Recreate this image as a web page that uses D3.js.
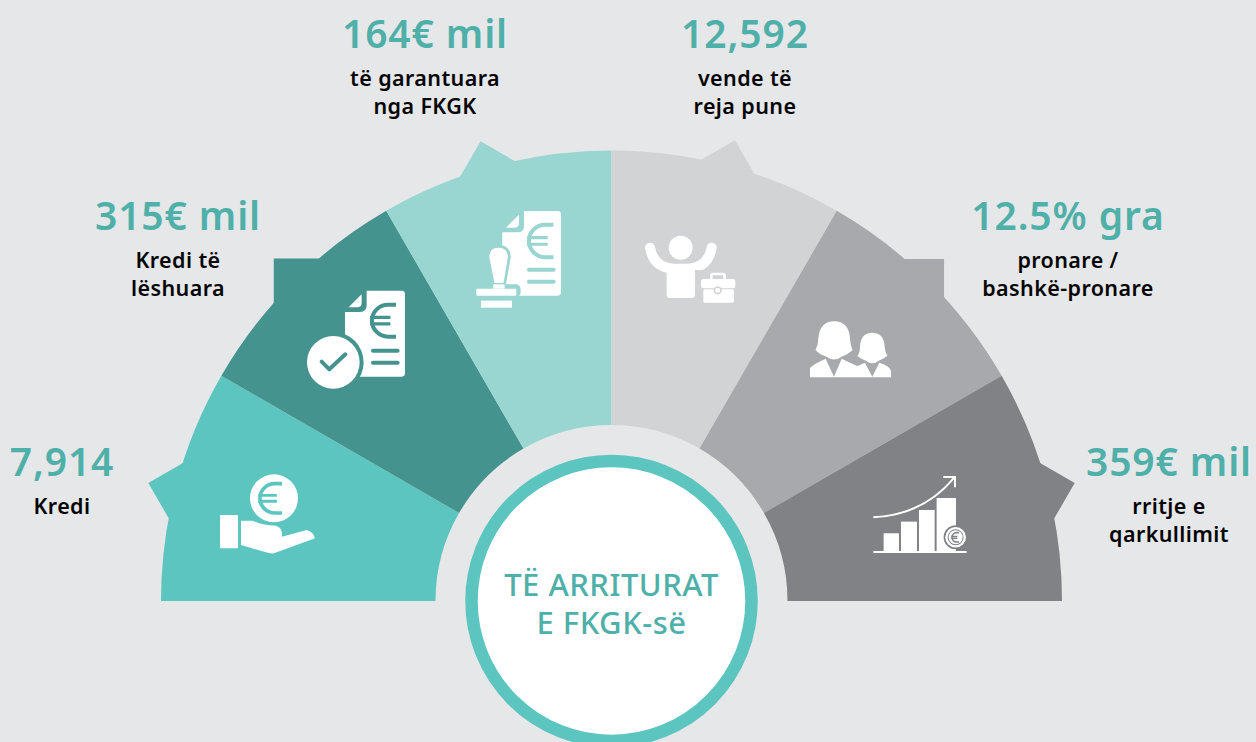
<!DOCTYPE html>
<html>
<head>
<meta charset="utf-8" />
<title>Të arriturat e FKGK-së</title>
<style>
  html, body {margin: 0; padding: 0; background: #e6e7e8;}
  svg {display: block;}
  text {font-family: "Noto Sans", sans-serif; text-anchor: middle;}
  .value {font-size: 39px; font-weight: 600; fill: #4fb0a9; letter-spacing: .9px;}
  .sub {font-size: 21.5px; font-weight: 600; fill: #050505; letter-spacing: .4px;}
  .center {font-size: 31px; font-weight: 500; fill: #4fb0a9; letter-spacing: .5px;}
</style>
<script src="https://cdnjs.cloudflare.com/ajax/libs/d3/7.8.5/d3.min.js"></script>
</head>
<body>
<svg id="chart" width="1256" height="742"></svg>
<script>
// data, left to right round the half circle
var categories = ["Kredi", "Kredi të lëshuara", "të garantuara nga FKGK", "vende të reja pune", "pronare / bashkë-pronare", "rritje e qarkullimit"];
var values = ["7,914", "315€ mil", "164€ mil", "12,592", "12.5% gra", "359€ mil"];
var subLines = [["Kredi"], ["Kredi të", "lëshuara"], ["të garantuara", "nga FKGK"], ["vende të", "reja pune"], ["pronare /", "bashkë-pronare"], ["rritje e", "qarkullimit"]];
var weights = [1, 1, 1, 1, 1, 1];
var colors = ["#5cc5bf", "#44938f", "#99d5d1", "#d1d3d4", "#a7a9ac", "#808285"];
var centerLines = ["TË ARRITURAT", "E FKGK-së"];

var labelX = [62, 178, 425, 745, 1068, 1169];
var labelY = [476, 230, 48, 48, 230, 476];
// where the tips of the little corners sit, degrees from straight up and radius
var tipAngle = [-75.7, -44.6, -15.9, 15, 44.2, 75.7];
var tipRadius = [478, 481, 478, 477, 477, 478];

var cx = 611.5, cy = 601;
var svg = d3.select("#chart");
var g = svg.append("g").attr("transform", "translate(" + cx + "," + cy + ")");

var pie = d3.pie().value(function(d) { return d; }).sort(null)
  .startAngle(-Math.PI / 2).endAngle(Math.PI / 2);
var arc = d3.arc().innerRadius(176).outerRadius(450.5);
var arcs = pie(weights);

// small square corner sticking out of each slice
function tab(d, i) {
  var a = tipAngle[i] * Math.PI / 180;
  var mid = (d.startAngle + d.endAngle) / 2;
  var tx = tipRadius[i] * Math.sin(a), ty = -tipRadius[i] * Math.cos(a);
  var s = 50 / Math.SQRT2;
  var ux = Math.sin(mid), uy = -Math.cos(mid), vx = -uy, vy = ux;
  var p = d3.path();
  p.moveTo(tx, ty);
  p.lineTo(tx - s * ux + s * vx, ty - s * uy + s * vy);
  p.lineTo(tx - s * ux - s * vx, ty - s * uy - s * vy);
  p.closePath();
  return p.toString();
}

g.selectAll(".tab").data(arcs).enter().append("path")
  .attr("class", "tab")
  .attr("d", tab)
  .attr("fill", function(d, i) { return colors[i]; });

g.selectAll(".slice").data(arcs).enter().append("path")
  .attr("class", "slice")
  .attr("d", arc)
  .attr("fill", function(d, i) { return colors[i]; });

// middle circle
g.append("circle").attr("r", 140).attr("fill", "#fff").attr("stroke", "#5cc5bf").attr("stroke-width", 12.5);
g.selectAll(".center").data(centerLines).enter().append("text")
  .attr("class", "center")
  .attr("x", 0)
  .attr("y", function(d, i) { return -5 + i * 38; })
  .text(function(d) { return d; });

// labels
var labels = svg.selectAll(".label").data(values).enter().append("g").attr("class", "label");
labels.append("text").attr("class", "value")
  .attr("x", function(d, i) { return labelX[i]; })
  .attr("y", function(d, i) { return labelY[i]; })
  .text(function(d) { return d; });
labels.each(function(d, i) {
  d3.select(this).selectAll(".sub").data(subLines[i]).enter().append("text")
    .attr("class", "sub")
    .attr("x", labelX[i])
    .attr("y", function(t, j) { return labelY[i] + 38 + j * 28; })
    .text(function(t) { return t; });
});

// icons, drawn in a 3x grid so they are easier to line up
var left = svg.append("g").attr("transform", "translate(130,130) scale(0.3333)");
var right = svg.append("g").attr("transform", "translate(610,130) scale(0.3333)");

function euro(p, x, y, r, col, sw) {
  p.append("path").attr("fill", "none").attr("stroke", col).attr("stroke-width", sw)
    .attr("d", "M" + (x + r * 0.5) + "," + (y - r) + "H" + x +
      "A" + r + "," + r + " 0 0 0 " + x + "," + (y + r) + "H" + (x + r * 0.5));
  p.append("path").attr("fill", "none").attr("stroke", col).attr("stroke-width", sw * 0.8)
    .attr("d", "M" + (x - r * 1.12) + "," + (y - r * 0.2) + "H" + (x + r * 0.15) +
      "M" + (x - r * 1.12) + "," + (y + r * 0.2) + "H" + (x + r * 0.15));
}

function paper(p, x0, y0, x1, y1, col) {
  // x0,y0 is the top left of the sheet, cut by the fold
  p.append("path").attr("fill", "#fff")
    .attr("d", "M" + (x0 + 65) + "," + y0 + "H" + (x1 - 10) + "q10,0 10,10V" + (y1 - 10) + "q0,10 -10,10H" + x0 + "V" + (y0 + 64) +
      "H" + (x0 + 45) + "q20,0 20,-20Z");
  p.append("path").attr("fill", "#fff")
    .attr("d", "M" + (x0 + 11) + "," + (y0 + 50) + "L" + (x0 + 50) + "," + (y0 + 11) + "V" + (y0 + 36) + "q0,14 -14,14Z");
  p.append("path").attr("fill", "none").attr("stroke", col).attr("stroke-width", 12).attr("stroke-linecap", "round")
    .attr("d", "M" + (x1 - 96) + "," + (y1 - 78) + "H" + (x1 - 22) + "M" + (x1 - 96) + "," + (y1 - 42) + "H" + (x1 - 22));
}

// hand with coin
left.append("circle").attr("cx", 432).attr("cy", 1105).attr("r", 72).attr("fill", "#fff");
euro(left, 434, 1105, 44, colors[0], 11);
left.append("rect").attr("x", 270).attr("y", 1155).attr("width", 54).attr("height", 100).attr("rx", 3).attr("fill", "#fff");
left.append("path").attr("fill", "#fff")
  .attr("d", "M333,1172H368Q400,1187 438,1187Q458,1192 456,1220L530,1200Q550,1205 555,1225L432,1270Q420,1272 400,1265L333,1245Z");

// document with tick
paper(left, 645, 482, 825, 740, colors[1]);
euro(left, 774, 572, 48, colors[1], 12);
left.append("circle").attr("cx", 610).attr("cy", 697).attr("r", 91).attr("fill", colors[1]);
left.append("circle").attr("cx", 610).attr("cy", 697).attr("r", 79).attr("fill", "#fff");
left.append("path").attr("fill", "none").attr("stroke", colors[1]).attr("stroke-width", 12).attr("stroke-linecap", "round").attr("stroke-linejoin", "round")
  .attr("d", "M575,695L598,718L646,673");

// document with stamp
paper(left, 1117, 243, 1293, 497, colors[2]);
euro(left, 1246, 333, 49, colors[2], 12);
left.append("path").attr("fill", "#fff").attr("stroke", colors[2]).attr("stroke-width", 8)
  .attr("d", "M1074,382Q1074,349 1105,349Q1138,349 1138,382L1124,463H1090Z");
left.append("rect").attr("x", 1036).attr("y", 463).attr("width", 136).attr("height", 38).attr("rx", 14).attr("fill", colors[2]);
left.append("rect").attr("x", 1039).attr("y", 476).attr("width", 120).attr("height", 21).attr("rx", 3).attr("fill", "#fff");
left.append("path").attr("fill", "#fff").attr("d", "M1090,463H1124V476H1090Z");
left.append("rect").attr("x", 1053).attr("y", 512).attr("width", 93).attr("height", 21).attr("fill", "#fff");

// person with briefcase
right.append("circle").attr("cx", 212).attr("cy", 353).attr("r", 36).attr("fill", "#fff");
right.append("path").attr("fill", "none").attr("stroke", "#fff").attr("stroke-width", 30).attr("stroke-linecap", "round")
  .attr("d", "M120,353Q130,412 190,416H235Q295,412 305,353");
right.append("rect").attr("x", 170).attr("y", 405).attr("width", 85).attr("height", 99).attr("rx", 10).attr("fill", "#fff");
right.append("rect").attr("x", 255).attr("y", 420).attr("width", 130).attr("height", 110).attr("fill", colors[3]);
right.append("rect").attr("x", 304).attr("y", 432).attr("width", 40).attr("height", 22).attr("rx", 5).attr("fill", "none").attr("stroke", "#fff").attr("stroke-width", 8);
right.append("rect").attr("x", 273).attr("y", 447).attr("width", 103).attr("height", 28).attr("rx", 6).attr("fill", "#fff");
right.append("rect").attr("x", 280).attr("y", 478).attr("width", 92).attr("height", 40).attr("rx", 5).attr("fill", "#fff");
right.append("circle").attr("cx", 323).attr("cy", 481).attr("r", 10).attr("fill", "#fff").attr("stroke", colors[3]).attr("stroke-width", 5);

// two women
right.append("path").attr("fill", "#fff")
  .attr("d", "M672,574Q716,574 720,625Q722,650 728,660Q712,675 695,680Q672,697 650,680Q630,675 617,660Q625,645 625,625Q630,574 672,574Z");
right.append("path").attr("fill", "#fff")
  .attr("d", "M600,742V715Q605,705 647,686L672,740L695,686Q720,698 742,708L765,698L787,740L808,698Q840,708 843,722V742Z");
right.append("path").attr("fill", "#fff")
  .attr("d", "M787,608Q822,608 824,650Q826,668 832,678Q818,688 806,692Q787,708 768,692Q755,688 742,678Q750,668 750,650Q752,608 787,608Z");

// bars with arrow
var barX = [821, 873, 927, 980];
var barR = [867, 921, 974, 1038];
var barTop = [1210, 1175, 1140, 1104];
barX.forEach(function(x, i) {
  right.append("rect").attr("x", x).attr("y", barTop[i]).attr("width", barR[i] - x).attr("height", 1264 - barTop[i]).attr("fill", "#fff");
});
right.append("path").attr("fill", "none").attr("stroke", "#fff").attr("stroke-width", 6)
  .attr("d", "M790,1266H1070M790,1162Q940,1155 1032,1044M1000,1041H1035V1072");
right.append("circle").attr("cx", 1037).attr("cy", 1222).attr("r", 36).attr("fill", colors[5]);
right.append("circle").attr("cx", 1037).attr("cy", 1222).attr("r", 31).attr("fill", "#fff");
right.append("circle").attr("cx", 1037).attr("cy", 1222).attr("r", 24).attr("fill", colors[5]);
right.append("circle").attr("cx", 1037).attr("cy", 1222).attr("r", 21).attr("fill", "#fff");
euro(right, 1040, 1222, 14, colors[5], 5);
</script>
</body>
</html>
